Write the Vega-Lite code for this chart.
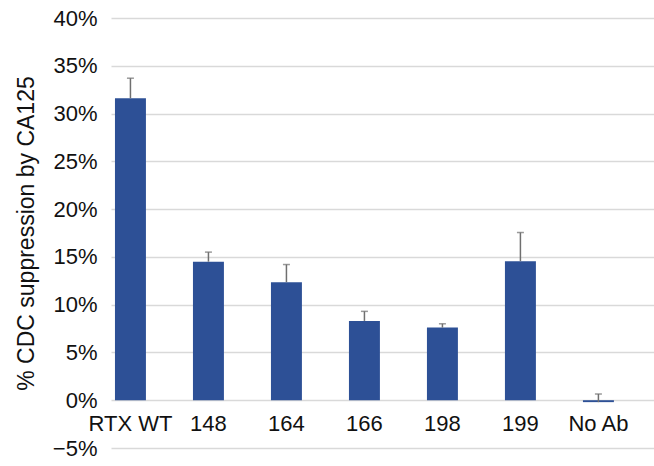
{
  "$schema": "https://vega.github.io/schema/vega-lite/v6.json",
  "width": 543,
  "height": 430,
  "autosize": "none",
  "padding": {"left": 111, "top": 18, "right": 0, "bottom": 18},
  "background": "white",
  "config": {
    "view": {"stroke": null},
    "font": "Liberation Sans",
    "axis": {"labelFont": "Liberation Sans", "titleFont": "Liberation Sans", "labelColor": "#111111", "titleColor": "#111111", "titleFontWeight": "normal"}
  },
  "data": {
    "values": [
      {"antibody": "RTX WT", "suppression": 0.316, "upper": 0.337},
      {"antibody": "148", "suppression": 0.145, "upper": 0.155},
      {"antibody": "164", "suppression": 0.1235, "upper": 0.142},
      {"antibody": "166", "suppression": 0.083, "upper": 0.093},
      {"antibody": "198", "suppression": 0.076, "upper": 0.080},
      {"antibody": "199", "suppression": 0.1455, "upper": 0.1755},
      {"antibody": "No Ab", "suppression": -0.002, "upper": 0.0065}
    ]
  },
  "encoding": {
    "x": {
      "field": "antibody",
      "type": "nominal",
      "sort": null,
      "scale": {"paddingInner": 0.603, "paddingOuter": 0.2825, "align": 0.09},
      "axis": {
        "title": null,
        "labelAngle": 0,
        "labelFontSize": 22,
        "labelPadding": 13,
        "offset": -48,
        "domain": false,
        "ticks": false
      }
    }
  },
  "layer": [
    {
      "mark": {"type": "bar", "color": "#2d5096"},
      "encoding": {
        "y": {
          "field": "suppression",
          "type": "quantitative",
          "scale": {"domain": [-0.05, 0.4], "nice": false, "zero": false},
          "axis": {
            "title": "% CDC suppression by CA125",
            "titleFontSize": 23,
            "titlePadding": 14,
            "format": ".0%",
            "values": [-0.05, 0, 0.05, 0.1, 0.15, 0.2, 0.25, 0.3, 0.35, 0.4],
            "labelFontSize": 22,
            "labelPadding": 14,
            "domain": false,
            "ticks": false,
            "grid": true,
            "gridColor": "#d9d9d9",
            "gridWidth": 1.5
          }
        }
      }
    },
    {
      "mark": {"type": "rule", "color": "#6f6f6f", "strokeWidth": 1.5},
      "encoding": {
        "y": {"field": "suppression", "type": "quantitative"},
        "y2": {"field": "upper"}
      }
    },
    {
      "mark": {"type": "tick", "color": "#6f6f6f", "size": 7, "thickness": 1.5},
      "encoding": {
        "y": {"field": "upper", "type": "quantitative"}
      }
    }
  ]
}
